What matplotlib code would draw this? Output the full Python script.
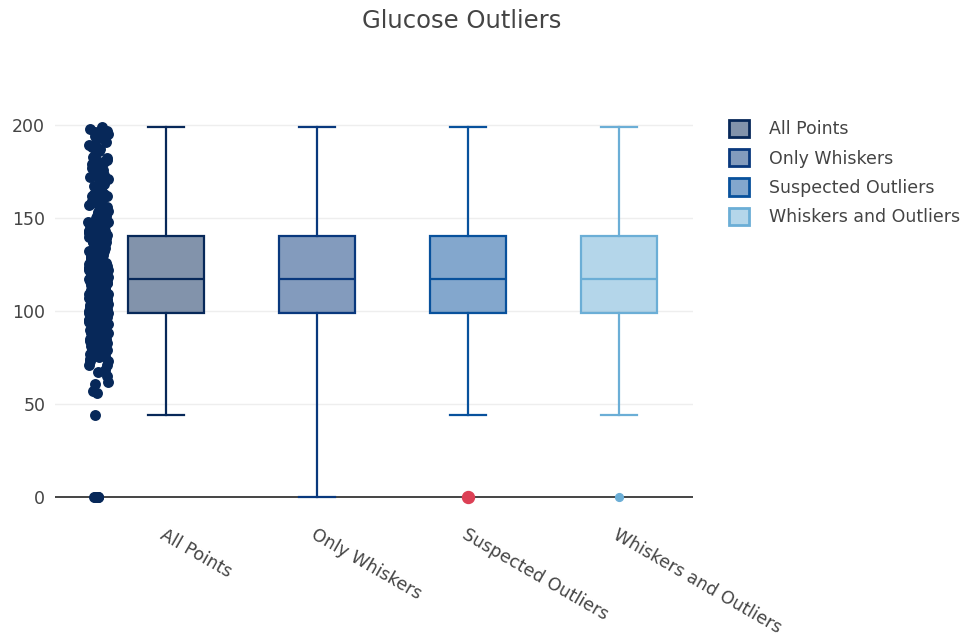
import matplotlib

matplotlib.use("Agg")
import matplotlib.pyplot as plt
import numpy as np
from matplotlib.patches import Patch

# Glucose readings (mg/dL) shown as the "All Points" strip
glucose = [
    148, 85, 183, 89, 137, 116, 78, 115, 197, 125, 110, 168, 139, 189, 166, 100, 118, 107, 103, 115,
    126, 99, 196, 119, 143, 125, 147, 97, 145, 117, 109, 158, 88, 92, 122, 103, 138, 102, 90, 111,
    180, 133, 106, 171, 159, 180, 146, 71, 103, 105, 103, 101, 88, 176, 150, 73, 187, 100, 146, 105,
    84, 133, 44, 141, 114, 99, 109, 109, 95, 146, 100, 139, 126, 129, 79, 0, 62, 95, 131, 112,
    113, 74, 83, 101, 137, 110, 106, 100, 136, 107, 80, 123, 81, 134, 142, 144, 92, 71, 93, 122,
    163, 151, 125, 81, 85, 126, 96, 144, 83, 95, 171, 155, 89, 76, 160, 146, 124, 78, 97, 99,
    162, 111, 107, 132, 113, 88, 120, 118, 117, 105, 173, 122, 170, 84, 96, 125, 100, 93, 129, 105,
    128, 106, 108, 108, 154, 102, 57, 106, 147, 90, 136, 114, 156, 153, 188, 152, 99, 109, 88, 163,
    151, 102, 114, 100, 131, 104, 148, 120, 110, 111, 102, 134, 87, 79, 75, 179, 85, 129, 143, 130,
    87, 119, 0, 73, 141, 194, 181, 128, 109, 139, 111, 123, 159, 135, 85, 158, 105, 107, 109, 148,
    113, 138, 108, 99, 103, 111, 196, 162, 96, 111, 107, 125, 99, 158, 107, 109, 153, 125, 112, 111,
    115, 128, 124, 155, 109, 126, 89, 76, 94, 135, 110, 132, 96, 142, 87, 131, 136, 103, 198, 112,
    184, 65, 127, 97, 161, 120, 117, 154, 119, 140, 152, 81, 149, 175, 93, 164, 97, 68, 121, 144,
    199, 112, 101, 124, 132, 119, 84, 123, 98, 137, 117, 67, 90, 118, 130, 115, 104, 177, 145, 116,
    95, 193, 0, 108, 119, 128, 127, 181, 88, 165, 91, 134, 112, 99, 122, 61, 124, 139, 111, 115,
    56, 143, 102, 167, 116, 134, 90, 105, 127, 195, 135, 118, 94, 129, 77, 150, 121, 106, 186, 117,
    114, 100, 140, 121, 91, 108, 0, 172, 102, 128, 83, 157, 141, 106, 120, 94, 174, 104, 119, 99,
    127, 130, 91, 109, 165, 97, 123, 142, 85, 112, 190, 106, 113, 79, 126, 118, 157, 101, 133, 92,
    134, 120, 86, 114, 182, 129, 99, 147, 108, 117, 125, 98, 191, 90, 116, 155, 103, 122, 78, 137,
    112, 0, 96, 124, 140, 108, 84, 128, 173, 120, 100, 149, 110, 116, 91, 130, 107, 177, 118, 95,
]

labels = ["All Points", "Only Whiskers", "Suspected Outliers", "Whiskers and Outliers"]
colors = ["#072859", "#09387d", "#08519c", "#6baed6"]

# five-number summaries per trace
q1 = [99, 99, 99, 99]
median = [117, 117, 117, 117]
q3 = [140.25, 140.25, 140.25, 140.25]
whisker_low = [44, 0, 44, 44]
whisker_high = [199, 199, 199, 199]
outliers = [[], [], [0], [0]]
outlier_colors = [None, None, "#dc4055", "#6baed6"]
outlier_sizes = [0, 0, 8.6, 5.6]

fig = plt.figure(figsize=(9.78, 6.44), dpi=100)
ax = fig.add_axes([0.0562, 0.1988, 0.6524, 0.6335])
ax.set_xlim(-0.735, 3.49)
ax.set_ylim(-10.2, 209.1)

for y in [50, 100, 150, 200]:
    ax.axhline(y, color="#eeeeee", lw=1, zorder=0)
ax.axhline(0, color="#444444", lw=1.4, zorder=1)

lw = 1.6
for i, label in enumerate(labels):
    stats = [{
        "q1": q1[i], "med": median[i], "q3": q3[i],
        "whislo": whisker_low[i], "whishi": whisker_high[i],
        "fliers": outliers[i], "label": label,
    }]
    c = colors[i]
    ax.bxp(
        stats, positions=[i], widths=0.5, capwidths=0.24, patch_artist=True,
        showfliers=True, manage_ticks=False, zorder=3,
        boxprops=dict(facecolor=matplotlib.colors.to_rgba(c, 0.5), edgecolor=c, linewidth=lw),
        medianprops=dict(color=c, linewidth=lw),
        whiskerprops=dict(color=c, linewidth=lw),
        capprops=dict(color=c, linewidth=lw),
        flierprops=dict(marker="o", markersize=outlier_sizes[i],
                        markerfacecolor=outlier_colors[i] or c,
                        markeredgecolor=outlier_colors[i] or c),
    )

# jittered strip to the left of the first box
vals = np.array(glucose, dtype=float)
frac = (np.arange(len(vals)) * 0.6180339887) % 1.0
xs = -0.448 + (frac - 0.5) * 0.13
ax.scatter(xs, vals, s=62, color=colors[0], linewidths=0, zorder=4)

ax.set_xticks(range(len(labels)))
ax.set_xticklabels(labels, rotation=-30, ha="left", va="top", rotation_mode="anchor",
                   color="#444444", fontsize=12.5)
ax.set_yticks([0, 50, 100, 150, 200])
ax.tick_params(axis="both", length=0, labelsize=12.5, labelcolor="#444444")
ax.tick_params(axis="y", pad=7)
ax.tick_params(axis="x", pad=7)
for s in ax.spines.values():
    s.set_visible(False)

fig.text(0.472, 0.968, "Glucose Outliers", ha="center", va="center",
         fontsize=17.5, color="#444444")

handles = [Patch(facecolor=matplotlib.colors.to_rgba(c, 0.5), edgecolor=c, linewidth=2)
           for c in colors]
fig.legend(handles, labels, loc="upper left", bbox_to_anchor=(0.729, 0.838),
           frameon=False, fontsize=12.5, labelcolor="#444444",
           handlelength=1.15, handleheight=1.15, labelspacing=0.62, handletextpad=1.15)

fig.savefig("out.png", dpi=100)
